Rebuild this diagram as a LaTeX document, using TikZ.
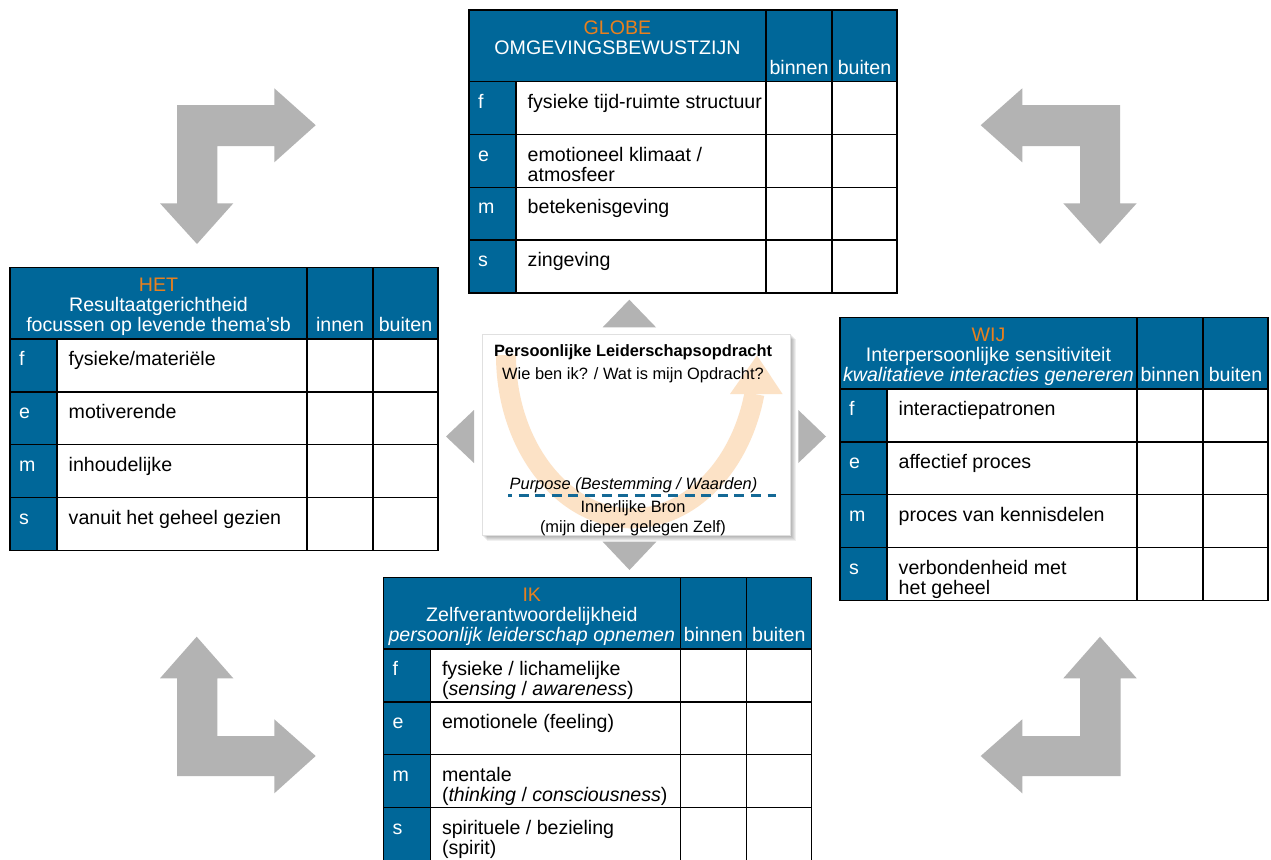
\documentclass[tikz,border=0pt]{standalone}
\usepackage{fontspec}
\setmainfont{Liberation Sans}
\definecolor{hdrblue}{RGB}{0,103,153}
\definecolor{ttlorange}{RGB}{232,128,30}
\definecolor{arrgray}{RGB}{179,179,179}
\definecolor{arcfill}{RGB}{252,226,198}
\definecolor{dashblue}{RGB}{20,105,150}
\tikzset{
  gridline/.style={draw=black,line width=1.6pt},
  tx/.style={font=\fontsize{19.6}{20}\selectfont,inner sep=0pt,anchor=mid west},
  lt/.style={tx,text=white},
  hd/.style={font=\fontsize{19.6}{20}\selectfont,inner sep=0pt,anchor=mid,text=white},
  ct/.style={font=\fontsize{16.4}{18}\selectfont,inner sep=0pt,anchor=mid},
  bigarrow/.style={fill=arrgray},
}
\newcommand\qgrid[2]{%
  \begin{scope}[shift={(#1,#2)}]
    \fill[hdrblue] (0,0) rectangle (428,71.5);
    \fill[hdrblue] (0,71.5) rectangle (47,283.1);
    \foreach \yy in {71.5,124.4,177.3,230.2} \draw[gridline] (0,\yy) -- (428,\yy);
    \draw[gridline] (47,71.5) -- (47,283.1);
    \foreach \xx in {297,363} \draw[gridline] (\xx,0) -- (\xx,283.1);
    \draw[gridline] (0,0) rectangle (428,283.1);
  \end{scope}}
\newcommand\qhead[8]{% prefix,x,y,title,line2,line3,col3,col4
  \begin{scope}[shift={(#2,#3)}]
    \node[hd,text=ttlorange] (#1-t1) at (148.5,21.5) {#4};
    \node[hd] (#1-t2) at (148.5,41.5) {#5};
    \if\relax\detokenize{#6}\relax\else\node[hd] (#1-t3) at (148.5,61.5) {#6};\fi
    \node[hd] (#1-c3) at (330,61.5) {#7};
    \node[hd] (#1-c4) at (395.5,61.5) {#8};
  \end{scope}}
\newcommand\qrow[7]{% prefix,x,y,row,letter,line1,line2
  \begin{scope}[shift={(#2,#3)}]
    \pgfmathsetmacro\rt{71.5+52.9*#4}
    \node[lt] (#1-l#4) at (9,\rt+24) {#5};
    \node[tx] (#1-a#4) at (58.5,\rt+24) {#6};
    \if\relax\detokenize{#7}\relax\else\node[tx] (#1-b#4) at (58.5,\rt+44) {#7};\fi
  \end{scope}}
\begin{document}
\begin{tikzpicture}[x=1pt,y=-1pt]
\useasboundingbox (0,0) rectangle (1271,859);
\fill[white] (0,0) rectangle (1271,859);

% bent arrows
\fill[bigarrow] (177,105) -- (274.3,105) -- (274.3,88.3) -- (315.7,125.2) -- (274.3,162.3) -- (274.3,146) -- (217.3,146) -- (217.3,203.3) -- (233.3,203.3) -- (197,244) -- (160,203.3) -- (177,203.3) -- cycle;
\fill[bigarrow] (1120,105) -- (1022.3,105) -- (1022.3,88.3) -- (980.7,125.2) -- (1022.3,162.3) -- (1022.3,146) -- (1080,146) -- (1080,203.3) -- (1063.3,203.3) -- (1100,244) -- (1136.7,203.3) -- (1120,203.3) -- cycle;
\fill[bigarrow] (196.7,636.7) -- (233.3,678.3) -- (217.3,678.3) -- (217.3,736) -- (274.3,736) -- (274.3,719.3) -- (315.7,756) -- (274.3,793.3) -- (274.3,776) -- (177,776) -- (177,678.3) -- (160,678.3) -- cycle;
\fill[bigarrow] (1100,636.7) -- (1136.7,678.3) -- (1120.5,678.3) -- (1120.5,776) -- (1022.3,776) -- (1022.3,793.3) -- (980.7,756) -- (1022.3,719.3) -- (1022.3,736) -- (1080,736) -- (1080,678.3) -- (1063.3,678.3) -- cycle;

% small triangles around centre
\fill[bigarrow] (629.3,299.7) -- (656,327.3) -- (602.7,327.3) -- cycle;
\fill[bigarrow] (602.7,541.7) -- (656.3,541.7) -- (629.5,570) -- cycle;
\fill[bigarrow] (446,436.5) -- (474,410) -- (474,463) -- cycle;
\fill[bigarrow] (798.3,410) -- (826,436.5) -- (798.3,463) -- cycle;

% centre box with shadow
\foreach \s in {1,2,3,4,5,6} \fill[black,opacity=0.06] (482+\s-1.5,334+\s-1.5) rectangle (790+\s,534.5+\s);
\node[draw=black!12,line width=0.5pt,fill=white,minimum width=308pt,minimum height=200.5pt,inner sep=0pt,anchor=north west] (cbox) at (482,334) {};
\draw[arcfill,line width=20pt] (506,355) arc[start angle=180,end angle=13.8,x radius=126,y radius=163.3];
\fill[arcfill] (730,394) -- (782.5,394) -- (757,355.5) -- cycle;
\node[ct,font=\fontsize{16.4}{18}\selectfont\bfseries] (c1) at (633,354) {Persoonlijke Leiderschapsopdracht};
\node[ct] (c2) at (633,377.3) {Wie ben ik? / Wat is mijn Opdracht?};
\node[ct,font=\fontsize{16.4}{18}\selectfont\itshape] (c3) at (633.5,487.3) {Purpose (Bestemming / Waarden)};
\coordinate (dl) at (508,495.7);
\coordinate (dr) at (776,495.7);
\draw[dashblue,line width=3pt,dash pattern=on 10pt off 6.6pt,dash phase=6pt] (dl) -- (dr);
\node[ct] (c4) at (633,509.7) {Innerlijke Bron};
\node[ct] (c5) at (633,529.7) {(mijn dieper gelegen Zelf)};

% GLOBE
\qgrid{469}{10}
\qhead{g}{469}{10}{GLOBE}{OMGEVINGSBEWUSTZIJN}{}{binnen}{buiten}
\qrow{g}{469}{10}{0}{f}{fysieke tijd-ruimte structuur}{}
\qrow{g}{469}{10}{1}{e}{emotioneel klimaat /}{atmosfeer}
\qrow{g}{469}{10}{2}{m}{betekenisgeving}{}
\qrow{g}{469}{10}{3}{s}{zingeving}{}

% HET
\qgrid{10}{267.3}
\qhead{h}{10}{267.3}{HET}{Resultaatgerichtheid}{focussen op levende thema’sb}{innen}{buiten}
\qrow{h}{10}{267.3}{0}{f}{fysieke/materiële}{}
\qrow{h}{10}{267.3}{1}{e}{motiverende}{}
\qrow{h}{10}{267.3}{2}{m}{inhoudelijke}{}
\qrow{h}{10}{267.3}{3}{s}{vanuit het geheel gezien}{}

% WIJ
\qgrid{840}{317.3}
\qhead{w}{840}{317.3}{WIJ}{Interpersoonlijke sensitiviteit}{\itshape kwalitatieve interacties genereren}{binnen}{buiten}
\qrow{w}{840}{317.3}{0}{f}{interactiepatronen}{}
\qrow{w}{840}{317.3}{1}{e}{affectief proces}{}
\qrow{w}{840}{317.3}{2}{m}{proces van kennisdelen}{}
\qrow{w}{840}{317.3}{3}{s}{verbondenheid met}{het geheel}

% IK
\qgrid{383.3}{577.3}
\qhead{i}{383.3}{577.3}{IK}{Zelfverantwoordelijkheid}{\itshape persoonlijk leiderschap opnemen}{binnen}{buiten}
\qrow{i}{383.3}{577.3}{0}{f}{fysieke / lichamelijke}{(\textit{sensing} / \textit{awareness})}
\qrow{i}{383.3}{577.3}{1}{e}{emotionele (feeling)}{}
\qrow{i}{383.3}{577.3}{2}{m}{mentale}{(\textit{thinking} / \textit{consciousness})}
\qrow{i}{383.3}{577.3}{3}{s}{spirituele / bezieling}{(spirit)}
\end{tikzpicture}
\end{document}
